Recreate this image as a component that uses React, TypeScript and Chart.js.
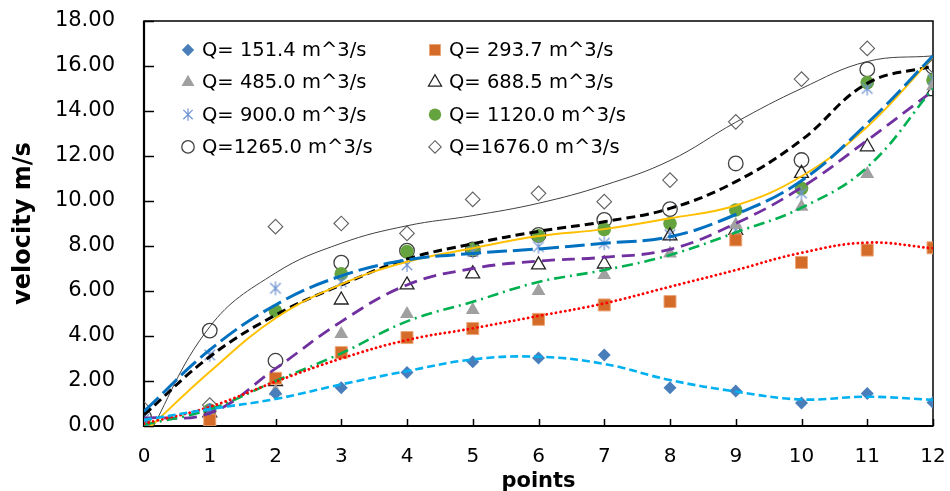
import React, { useEffect, useRef } from "react";
import { Chart, registerables } from "chart.js";

Chart.register(...registerables);

// ---------- data ----------
const points = [0, 1, 2, 3, 4, 5, 6, 7, 8, 9, 10, 11, 12];
const seriesLabels = [
  "Q= 151.4 m^3/s",
  "Q= 293.7 m^3/s",
  "Q= 485.0 m^3/s",
  "Q= 688.5 m^3/s",
  "Q= 900.0 m^3/s",
  "Q= 1120.0 m^3/s",
  "Q=1265.0 m^3/s",
  "Q=1676.0 m^3/s",
];
const yTickValues = [0, 2, 4, 6, 8, 10, 12, 14, 16, 18];

// measured velocities (markers)
const q151 = [0.1, 0.75, 1.45, 1.7, 2.38, 2.86, 3.02, 3.16, 1.7, 1.56, 1.02, 1.45, 1.05];
const q294 = [0.05, 0.27, 2.12, 3.26, 3.93, 4.33, 4.74, 5.38, 5.53, 8.27, 7.27, 7.82, 7.92];
const q485 = [0.05, 0.2, 1.55, 4.09, 4.98, 5.16, 6.0, 6.71, 7.67, 8.95, 9.75, 11.2, 15.1];
const q689 = [0.1, 0.58, 1.97, 5.6, 6.27, 6.76, 7.16, 7.2, 8.45, 8.7, 11.23, 12.41, 14.86];
const q900 = [0.3, 3.16, 6.12, 6.41, 7.16, 7.75, 7.97, 8.12, 8.5, 8.7, 10.35, 15.0, 15.4];
const q1120 = [0.1, 0.71, 5.11, 6.76, 7.75, 7.85, 8.45, 8.74, 9.0, 9.6, 10.56, 15.26, 15.38];
const q1265 = [0.41, 4.24, 2.9, 7.26, 7.79, 7.85, 8.49, 9.16, 9.64, 11.67, 11.82, 15.85, 15.97];
const q1676 = [0.75, 0.93, 8.86, 9.0, 8.56, 10.07, 10.34, 9.97, 10.93, 13.52, 15.42, 16.78, 16.0];

// trend lines (at each point)
const trend151 = [0.27, 0.75, 1.2, 1.85, 2.44, 2.96, 3.08, 2.76, 2.04, 1.53, 1.18, 1.3, 1.16];
const trend294 = [0.1, 0.85, 1.97, 3.0, 3.82, 4.34, 4.89, 5.45, 6.19, 6.93, 7.7, 8.15, 7.9];
const trend485 = [0.05, 0.74, 2.0, 3.23, 4.65, 5.52, 6.4, 6.93, 7.6, 8.6, 9.7, 11.5, 15.0];
const trend689 = [0.35, 0.57, 2.55, 4.64, 6.27, 7.0, 7.33, 7.5, 7.85, 9.0, 10.6, 12.7, 14.9];
const trend900 = [0.65, 3.38, 5.38, 6.67, 7.38, 7.67, 7.87, 8.12, 8.41, 9.4, 10.9, 13.45, 16.45];
const trend1120 = [-0.3, 2.41, 4.79, 6.3, 7.3, 7.9, 8.44, 8.75, 9.23, 9.8, 11.1, 13.3, 16.4];
const trend1265 = [0.5, 3.08, 4.93, 6.27, 7.42, 8.1, 8.65, 9.08, 9.67, 10.86, 12.71, 15.23, 16.0];
const trend1676 = [-0.8, 4.41, 6.8, 8.12, 8.9, 9.35, 9.9, 10.7, 11.8, 13.5, 15.0, 16.2, 16.45];

const markerSeries = [q151, q294, q485, q689, q900, q1120, q1265, q1676];
const trendSeries = [trend151, trend294, trend485, trend689, trend900, trend1120, trend1265, trend1676];

// ---------- styles ----------
const FONT = "'DejaVu Sans', 'Verdana', sans-serif";

type MarkerStyle = { kind: string; fill: string; stroke: string; lw: number; r: number };
const markerStyles: MarkerStyle[] = [
  { kind: "diamond", fill: "#4A7EBB", stroke: "#4A7EBB", lw: 0, r: 6.5 },
  { kind: "square", fill: "#D56B28", stroke: "#EBA77A", lw: 1, r: 6 },
  { kind: "triangle", fill: "#A0A0A0", stroke: "#A0A0A0", lw: 0, r: 8 },
  { kind: "triangle", fill: "rgba(0,0,0,0)", stroke: "#222222", lw: 1.3, r: 8 },
  { kind: "asterisk", fill: "rgba(0,0,0,0)", stroke: "#6F93D0", lw: 1.2, r: 7 },
  { kind: "circle", fill: "#65A33F", stroke: "#65A33F", lw: 0, r: 6.8 },
  { kind: "circle", fill: "rgba(0,0,0,0)", stroke: "#404040", lw: 1.3, r: 7.3 },
  { kind: "diamond", fill: "rgba(0,0,0,0)", stroke: "#606060", lw: 1.1, r: 7.3 },
];

const trendStyles = [
  { color: "#00B0F0", width: 2.6, dash: [8, 4], cap: "butt" },
  { color: "#FF0000", width: 2.8, dash: [0.1, 4.6], cap: "round" },
  { color: "#00B050", width: 2.6, dash: [11, 5, 2, 5], cap: "butt" },
  { color: "#7030A0", width: 2.8, dash: [13, 7], cap: "butt" },
  { color: "#0070C0", width: 3, dash: [20, 6], cap: "butt" },
  { color: "#FFC000", width: 2, dash: [], cap: "butt" },
  { color: "#000000", width: 3, dash: [9, 5], cap: "butt" },
  { color: "#404040", width: 1, dash: [], cap: "butt" },
];

function drawMarker(ctx: CanvasRenderingContext2D, m: MarkerStyle, x: number, y: number, r: number) {
  ctx.save();
  ctx.fillStyle = m.fill;
  ctx.strokeStyle = m.stroke;
  ctx.lineWidth = m.lw || 1;
  ctx.beginPath();
  if (m.kind === "diamond") {
    ctx.moveTo(x, y - r);
    ctx.lineTo(x + r, y);
    ctx.lineTo(x, y + r);
    ctx.lineTo(x - r, y);
    ctx.closePath();
  } else if (m.kind === "square") {
    ctx.rect(x - r, y - r, 2 * r, 2 * r);
  } else if (m.kind === "triangle") {
    ctx.moveTo(x, y - r);
    ctx.lineTo(x + r * 0.866, y + r * 0.5);
    ctx.lineTo(x - r * 0.866, y + r * 0.5);
    ctx.closePath();
  } else if (m.kind === "circle") {
    ctx.arc(x, y, r, 0, Math.PI * 2);
  } else if (m.kind === "asterisk") {
    ctx.moveTo(x, y - r);
    ctx.lineTo(x, y + r);
    const d = r * 0.75;
    ctx.moveTo(x - d, y - d);
    ctx.lineTo(x + d, y + d);
    ctx.moveTo(x + d, y - d);
    ctx.lineTo(x - d, y + d);
    ctx.stroke();
    ctx.restore();
    return;
  }
  ctx.fill();
  if (m.lw > 0) ctx.stroke();
  ctx.restore();
}

function makeAsteriskCanvas(m: MarkerStyle): HTMLCanvasElement {
  const size = Math.ceil(m.r * 2 + 4);
  const c = document.createElement("canvas");
  c.width = size;
  c.height = size;
  const cx = c.getContext("2d")!;
  drawMarker(cx, m, size / 2, size / 2, m.r);
  return c;
}

const framePlugin = {
  id: "frameTicks",
  beforeDatasetsDraw(chart: any) {
    const { ctx, chartArea: a, scales } = chart;
    ctx.save();
    ctx.strokeStyle = "#000";
    ctx.lineWidth = 1.5;
    ctx.strokeRect(a.left, a.top, a.right - a.left, a.bottom - a.top);
    ctx.lineWidth = 2.2;
    ctx.beginPath();
    ctx.moveTo(a.left, a.top);
    ctx.lineTo(a.left, a.bottom);
    ctx.lineTo(a.right, a.bottom);
    ctx.stroke();
    ctx.lineWidth = 1.5;
    ctx.beginPath();
    for (const v of yTickValues) {
      const y = Math.round(scales.y.getPixelForValue(v)) + 0.5;
      ctx.moveTo(a.left, y);
      ctx.lineTo(a.left + 10, y);
    }
    for (const p of points) {
      const x = Math.round(scales.x.getPixelForValue(p)) + 0.5;
      ctx.moveTo(x, a.bottom);
      ctx.lineTo(x, a.bottom - 7);
    }
    ctx.stroke();
    ctx.restore();
  },
};

const legendPlugin = {
  id: "gridLegend",
  afterDraw(chart: any) {
    const { ctx, chartArea: a } = chart;
    ctx.save();
    ctx.font = `19.5px ${FONT}`;
    ctx.textBaseline = "middle";
    ctx.textAlign = "left";
    seriesLabels.forEach((label, i) => {
      const col = i % 2;
      const row = Math.floor(i / 2);
      const mx = a.left + (col ? 291 : 44);
      const y = a.top + 29 + row * 32.3;
      const m = markerStyles[i];
      const lr = m.kind === "square" ? 5.5 : m.kind === "triangle" ? 7.5 : 6.2;
      drawMarker(ctx, m, mx, y, lr);
      ctx.fillStyle = "#000";
      ctx.fillText(label, mx + 14, y + 1);
    });
    ctx.restore();
  },
};

export default function App() {
  const ref = useRef<HTMLCanvasElement>(null);

  useEffect(() => {
    const canvas = ref.current;
    if (!canvas) return;
    const toXY = (arr: number[]) => points.map((p, i) => ({ x: p, y: arr[i] }));

    const trendSets = trendSeries.map((arr, i) => {
      const s = trendStyles[i];
      return {
        label: seriesLabels[i] + " trend",
        data: toXY(arr),
        borderColor: s.color,
        backgroundColor: s.color,
        borderWidth: s.width,
        borderDash: s.dash,
        borderCapStyle: s.cap,
        pointRadius: 0,
        pointBorderWidth: 0,
        tension: 0.4,
        fill: false,
        order: 0,
      };
    });

    const markerSets = markerSeries.map((arr, i) => {
      const m = markerStyles[i];
      let pointStyle: any = "circle";
      let radius = m.r;
      if (m.kind === "diamond") pointStyle = "rectRot";
      else if (m.kind === "square") {
        pointStyle = "rect";
        radius = m.r / Math.SQRT1_2;
      } else if (m.kind === "triangle") pointStyle = "triangle";
      else if (m.kind === "asterisk") pointStyle = makeAsteriskCanvas(m);
      return {
        label: seriesLabels[i],
        data: toXY(arr),
        showLine: false,
        pointStyle,
        pointRadius: radius,
        pointBackgroundColor: m.fill,
        pointBorderColor: m.stroke,
        pointBorderWidth: m.lw,
        borderColor: m.stroke,
        backgroundColor: m.fill,
        order: 1,
      };
    });

    const chart = new Chart(canvas, {
      type: "line",
      data: { datasets: [...trendSets, ...markerSets] as any },
      options: {
        animation: false,
        responsive: false,
        events: [],
        layout: { autoPadding: false, padding: { left: 0, right: 17, top: 21, bottom: 0 } },
        plugins: {
          legend: { display: false },
          tooltip: { enabled: false },
        },
        scales: {
          x: {
            type: "linear",
            min: 0,
            max: 12,
            ticks: {
              stepSize: 1,
              padding: 19,
              color: "#000",
              font: { family: FONT, size: 20 },
              callback: (v: any) => String(v),
            },
            grid: { display: false, drawTicks: false },
            border: { display: false },
            title: {
              display: true,
              text: "points",
              color: "#000",
              font: { family: FONT, size: 21, weight: "bold", lineHeight: 1 },
              padding: { top: 0, bottom: -1 },
            },
            afterFit: (s: any) => {
              s.height = 65;
              s.paddingLeft = 0;
              s.paddingRight = 0;
            },
          },
          y: {
            type: "linear",
            min: 0,
            max: 18,
            ticks: {
              stepSize: 2,
              padding: 29,
              color: "#000",
              font: { family: FONT, size: 21 },
              callback: (v: any) => Number(v).toFixed(2),
            },
            grid: { display: false, drawTicks: false },
            border: { display: false },
            title: {
              display: true,
              text: "velocity m/s",
              color: "#000",
              font: { family: FONT, size: 24, weight: "bold", lineHeight: 1 },
              padding: { top: 12, bottom: 0 },
            },
            afterFit: (s: any) => {
              s.width = 144;
              s.paddingTop = 0;
              s.paddingBottom = 0;
            },
          },
        },
      } as any,
      plugins: [framePlugin, legendPlugin],
    });
    return () => chart.destroy();
  }, []);

  return (
    <div style={{ position: "absolute", left: 0, top: 0, width: 950, height: 491, background: "#fff" }}>
      <canvas ref={ref} width={950} height={491} style={{ display: "block", width: 950, height: 491 }} />
    </div>
  );
}
